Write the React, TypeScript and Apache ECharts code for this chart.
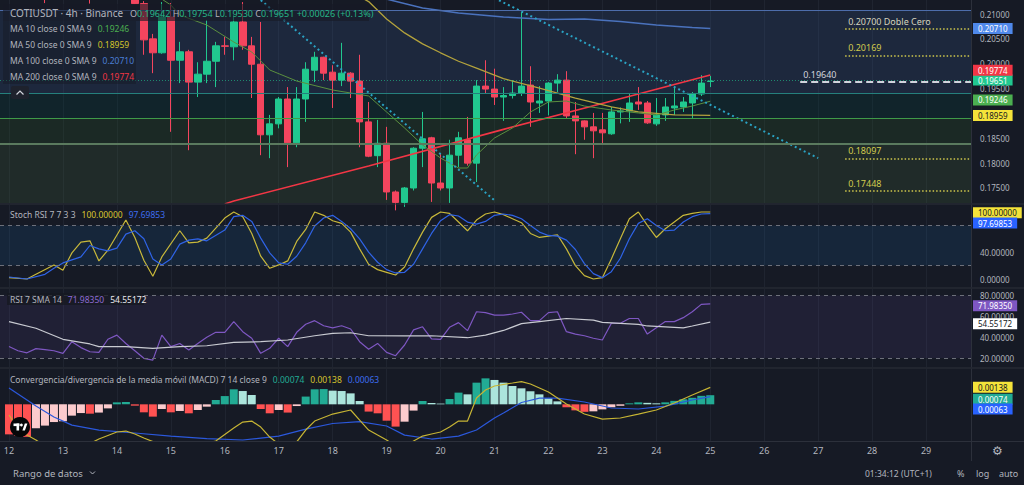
import React, { useEffect, useRef } from "react";
import * as echarts from "echarts";

const FONT = '"Noto Sans", "Open Sans", sans-serif';
const BG = "#161a25";
const SEP = "#2c303b";
const TXT = "#b2b5be";
const UP = "#21c88f";
const DOWN = "#f4455e";

// ---------- axis / category data ----------
const dayLabels = ["12", "13", "14", "15", "16", "17", "18", "19", "20", "21", "22", "23", "24", "25", "26", "27", "28", "29"];
const hourSlots = ["00:00", "04:00", "08:00", "12:00", "16:00", "20:00"];
const LEAD = 1; // one 4h slot before day 12 00:00
const categories = ["11 20:00", ...dayLabels.flatMap((d) => hourSlots.map((h) => `${d} ${h}`))];

// ---------- price pane ----------
// [open, close, low, high] for each 4h candle, k = 0 is 12 00:00, last is 25 00:00
const ohlc = [
  [0.2160, 0.2175, 0.2150, 0.2185],
  [0.2175, 0.2168, 0.2160, 0.2190],
  [0.2168, 0.2180, 0.2158, 0.2195],
  [0.2180, 0.2165, 0.2150, 0.2188],
  [0.2165, 0.2140, 0.2122, 0.2170],
  [0.2140, 0.2158, 0.2135, 0.2165],
  [0.2158, 0.2170, 0.2150, 0.2180],
  [0.2170, 0.2155, 0.2140, 0.2178],
  [0.2155, 0.2148, 0.2138, 0.2162],
  [0.2148, 0.2135, 0.2121, 0.2155],
  [0.2135, 0.2150, 0.2130, 0.2160],
  [0.2150, 0.2142, 0.2133, 0.2158],
  [0.2142, 0.2150, 0.2136, 0.2156],
  [0.2150, 0.2138, 0.2130, 0.2155],
  [0.2138, 0.2121, 0.2120, 0.2145],
  [0.2121, 0.2048, 0.2018, 0.2126],
  [0.2050, 0.2022, 0.1981, 0.2060],
  [0.2022, 0.2094, 0.2020, 0.2124],
  [0.2094, 0.2007, 0.1863, 0.2122],
  [0.2007, 0.2024, 0.1961, 0.2044],
  [0.2024, 0.1963, 0.1826, 0.2028],
  [0.1963, 0.1979, 0.1933, 0.2003],
  [0.1979, 0.2005, 0.1961, 0.2088],
  [0.2005, 0.2036, 0.1953, 0.2044],
  [0.2036, 0.2035, 0.2018, 0.2054],
  [0.2034, 0.2084, 0.2007, 0.2098],
  [0.2084, 0.2036, 0.2028, 0.2124],
  [0.2036, 0.1999, 0.1931, 0.2054],
  [0.1999, 0.1857, 0.1816, 0.2084],
  [0.1857, 0.1879, 0.1810, 0.1897],
  [0.1879, 0.1929, 0.1870, 0.1933],
  [0.1929, 0.1841, 0.1792, 0.1953],
  [0.1841, 0.1929, 0.1832, 0.1953],
  [0.1929, 0.1989, 0.1883, 0.2003],
  [0.1987, 0.2013, 0.1963, 0.2024],
  [0.2013, 0.1981, 0.1967, 0.2014],
  [0.1983, 0.1967, 0.1911, 0.1997],
  [0.1967, 0.1981, 0.1955, 0.2042],
  [0.1981, 0.1965, 0.1931, 0.1983],
  [0.1965, 0.1883, 0.1832, 0.2018],
  [0.1883, 0.1814, 0.1812, 0.1923],
  [0.1815, 0.1840, 0.1792, 0.1887],
  [0.1840, 0.1742, 0.1726, 0.1873],
  [0.1742, 0.1721, 0.1705, 0.1745],
  [0.1721, 0.1750, 0.1712, 0.1752],
  [0.1750, 0.1830, 0.1745, 0.1832],
  [0.1830, 0.1849, 0.1792, 0.1903],
  [0.1851, 0.1760, 0.1722, 0.1853],
  [0.1760, 0.1750, 0.1745, 0.1818],
  [0.1750, 0.1816, 0.1720, 0.1847],
  [0.1816, 0.1851, 0.1792, 0.1863],
  [0.1847, 0.1800, 0.1795, 0.1893],
  [0.1800, 0.1955, 0.1762, 0.1967],
  [0.1955, 0.1949, 0.1940, 0.2007],
  [0.1949, 0.1933, 0.1917, 0.1990],
  [0.1933, 0.1936, 0.1885, 0.1953],
  [0.1936, 0.1941, 0.1930, 0.1967],
  [0.1941, 0.1955, 0.1935, 0.2104],
  [0.1957, 0.1923, 0.1873, 0.1995],
  [0.1921, 0.1925, 0.1901, 0.1955],
  [0.1925, 0.1961, 0.1896, 0.1963],
  [0.1961, 0.1967, 0.1943, 0.1979],
  [0.1967, 0.1895, 0.1890, 0.1985],
  [0.1895, 0.1885, 0.1818, 0.1923],
  [0.1885, 0.1873, 0.1847, 0.1886],
  [0.1873, 0.1865, 0.1810, 0.1901],
  [0.1867, 0.1861, 0.1838, 0.1901],
  [0.1859, 0.1903, 0.1857, 0.1913],
  [0.1903, 0.1905, 0.1880, 0.1912],
  [0.1905, 0.1921, 0.1883, 0.1939],
  [0.1923, 0.1919, 0.1907, 0.1953],
  [0.1921, 0.1881, 0.1879, 0.1925],
  [0.1879, 0.1897, 0.1875, 0.1931],
  [0.1897, 0.1913, 0.1885, 0.1931],
  [0.1911, 0.1915, 0.1897, 0.1953],
  [0.1913, 0.1923, 0.1903, 0.1933],
  [0.1921, 0.1939, 0.1891, 0.1943],
  [0.1939, 0.1961, 0.1935, 0.1977],
  [0.19642, 0.19651, 0.1953, 0.19754],
];
const lastChange = "+0.00026 (+0.13%)";

// moving averages: [candle k, value]
const ma10 = [[17, 0.2130], [18, 0.21181], [19, 0.2098], [22, 0.20779], [25, 0.20437], [27, 0.20236], [29, 0.19874], [32, 0.19652], [36, 0.19471], [40, 0.19351], [42, 0.19029], [44, 0.18707], [46, 0.18365], [48, 0.18103], [50, 0.17902], [51, 0.17902], [52, 0.18164], [54, 0.18506], [56, 0.18707], [58, 0.19029], [60, 0.1923], [62, 0.1925], [64, 0.19149], [67, 0.19069], [70, 0.19009], [72, 0.18968], [74, 0.19069], [76, 0.19149], [78, 0.19246]];
const ma50 = [[39, 0.2135], [40, 0.2125], [42, 0.2090], [44, 0.2062], [46, 0.2040], [48, 0.2022], [50, 0.2005], [52, 0.1991], [55, 0.1970], [59, 0.1951], [63, 0.1931], [67, 0.1913], [70, 0.1903], [74, 0.1897], [78, 0.18959]];
const ma100 = [[42, 0.2130], [46, 0.2112], [50, 0.2102], [55, 0.2094], [60, 0.2089], [64, 0.2090], [68, 0.2085], [72, 0.2078], [76, 0.2073], [78, 0.2071]];
const ma200 = [[24, 0.17178], [25, 0.17238], [40, 0.17942], [55, 0.18679], [70, 0.19391], [78, 0.19774]];

// dotted trend lines: [candle k, price]
const trendA = [[28, 0.2128], [54, 0.1725]];
const trendB = [[54, 0.2132], [90, 0.1810]];

// shaded zones (top edge of each zone; the last zone runs to the pane bottom)
const zoneTops = [0.2108, 0.19405, 0.18902, 0.18385];

// horizontal level rays
const levelValues = [0.207, 0.20169, 0.1964, 0.18097, 0.17448];
const levelTexts = ["0.20700 Doble Cero", "0.20169", "0.19640", "0.18097", "0.17448"];
const levelStartK = [93, 93, 88, 93, 93];

const priceTicks = [0.175, 0.18, 0.185, 0.195, 0.2, 0.205, 0.21];
const priceRange = [0.17198, 0.21282];

// ---------- Stoch RSI pane ----------
const stochK = [[0, 2], [2, 0], [3, 7], [5, 21], [6, 13], [7, 39], [8, 55], [9, 57], [10, 27], [11, 43], [13, 88], [14, 62], [15, 28], [16, 4], [17, 33], [19, 72], [20, 54], [21, 55], [22, 61], [24, 91], [25, 100], [26, 93], [27, 68], [28, 34], [29, 16], [30, 21], [31, 27], [32, 56], [33, 74], [34, 100], [35, 95], [36, 87], [37, 83], [38, 70], [39, 45], [40, 22], [41, 14], [42, 10], [43, 6], [44, 18], [45, 45], [46, 70], [47, 92], [48, 100], [49, 98], [50, 85], [51, 72], [52, 88], [53, 97], [54, 100], [55, 96], [56, 90], [57, 84], [58, 68], [59, 62], [60, 64], [61, 66], [62, 45], [63, 20], [64, 5], [65, 0], [66, 2], [67, 30], [68, 60], [69, 90], [70, 100], [71, 80], [72, 62], [73, 75], [74, 85], [75, 95], [76, 98], [77, 100], [78, 100]];
const stochD = [[0, 3], [2, 0], [4, 7], [5, 16], [6, 24], [8, 33], [9, 50], [10, 45], [11, 42], [12, 46], [13, 67], [14, 72], [15, 60], [16, 30], [17, 21], [18, 30], [19, 52], [20, 58], [21, 60], [22, 57], [24, 73], [25, 93], [26, 95], [27, 86], [28, 61], [29, 39], [30, 24], [31, 22], [32, 34], [33, 54], [34, 79], [35, 91], [36, 95], [37, 86], [38, 75], [39, 60], [40, 40], [41, 25], [42, 14], [43, 9], [44, 10], [45, 22], [46, 45], [47, 68], [48, 87], [49, 96], [50, 94], [51, 85], [52, 82], [53, 86], [54, 95], [55, 97], [56, 95], [57, 90], [58, 80], [59, 70], [60, 65], [61, 64], [62, 58], [63, 44], [64, 23], [65, 8], [66, 2], [67, 11], [68, 31], [69, 60], [70, 83], [71, 90], [72, 80], [73, 72], [74, 73], [75, 85], [76, 93], [77, 97], [78, 97.69853]];
const stochTicks = [0, 40];
const stochRange = [-11.94, 110.45];

// ---------- RSI pane ----------
const rsi = [[0, 31], [1, 27], [2, 25], [3, 29], [4, 28], [5, 27], [6, 24.5], [7, 35.7], [8, 30], [9, 26], [10, 25.4], [11, 38], [12, 42], [13, 34], [14, 27], [15, 19.7], [16, 18], [17, 42], [18, 31], [19, 34], [20, 27.7], [21, 34], [22, 40], [23, 44.7], [24, 44.7], [25, 55], [26, 45.3], [27, 39], [28, 24.5], [29, 29.3], [30, 39], [31, 30.9], [32, 44.7], [33, 52.4], [34, 55.9], [35, 51], [36, 49], [37, 51], [38, 47.9], [39, 35.7], [40, 28.4], [41, 34], [42, 25.4], [43, 22.2], [44, 32.5], [45, 47], [46, 50], [47, 38.3], [48, 38], [49, 49.5], [50, 54], [51, 46.3], [52, 64.5], [53, 63.6], [54, 61.3], [55, 61.3], [56, 62.3], [57, 64], [58, 55.9], [59, 55.9], [60, 63.6], [61, 64.5], [62, 45.3], [63, 43], [64, 41.4], [65, 39], [66, 37.3], [67, 53.4], [68, 53.4], [69, 58], [70, 58], [71, 43], [72, 49], [73, 55], [74, 55], [75, 58.8], [76, 64.5], [77, 71.6], [78, 71.9835]];
const rsiMa = [[0, 55], [3, 48.6], [6, 38], [9, 33.5], [10, 30.9], [13, 30.9], [16, 29.3], [19, 30.9], [22, 31.8], [25, 35], [28, 35.7], [31, 37.3], [34, 41.4], [36, 43.7], [38, 44.3], [40, 41.4], [44, 41.2], [47, 41.4], [51, 39.5], [53, 42], [55, 46.5], [57, 53], [59, 55], [62, 58], [65, 56.5], [66, 54.3], [70, 52.4], [71, 50.8], [75, 49], [76, 50.8], [78, 54.55172]];
const rsiTicks = [20, 40, 60, 80];
const rsiRange = [11.35, 86.35];

// ---------- MACD pane ----------
const macdHist = [-0.00244, -0.00256, -0.00264, -0.00195, -0.00173, -0.00144, -0.00138, -0.00092, -0.00071, -0.00076, -0.00067, -0.00033, 0.00016, 0.00019, -0.00011, -0.00065, -0.001, -0.00038, -0.00065, -0.00054, -0.00073, -0.00046, -0.00019, 0.00035, 0.00067, 0.00122, 0.00108, 0.00076, -0.00038, -0.00073, -0.00046, -0.00067, -0.00014, 0.00063, 0.00122, 0.00124, 0.00111, 0.00108, 0.00089, 0.00027, -0.00059, -0.00073, -0.00133, -0.00181, -0.00141, -0.00051, 0.00027, 0.00011, 0.00006, 0.00043, 0.00095, 0.00081, 0.00176, 0.00211, 0.00198, 0.00176, 0.00149, 0.0013, 0.00106, 0.00081, 0.00049, 0.00024, -0.00024, -0.00049, -0.00061, -0.00057, -0.00041, -0.00024, -0.00012, 0.00008, 0.00016, 0.00012, 0.00008, 0.00016, 0.00028, 0.00041, 0.00053, 0.00069, 0.00074];
const macdLine = [[0, -0.00087], [1, -0.00193], [2, -0.0025], [3, -0.0029], [4, -0.00339], [6, -0.00372], [8, -0.00355], [10, -0.00282], [12, -0.00225], [13, -0.00217], [14, -0.00241], [15, -0.00274], [17, -0.00331], [20, -0.00347], [23, -0.00298], [25, -0.00193], [26, -0.00144], [27, -0.00136], [28, -0.00185], [29, -0.00266], [30, -0.00323], [32, -0.00306], [33, -0.00209], [34, -0.00136], [36, -0.00079], [38, -0.00046], [39, -0.00128], [40, -0.00209], [41, -0.0025], [42, -0.0029], [43, -0.00339], [44, -0.00339], [45, -0.00298], [46, -0.00258], [47, -0.00241], [48, -0.00225], [49, -0.00185], [50, -0.00136], [51, -0.00136], [52, 0.00051], [53, 0.00116], [54, 0.00149], [56, 0.00173], [57, 0.00185], [58, 0.00165], [60, 0.001], [62, 0.00002], [64, -0.00079], [66, -0.0012], [68, -0.00111], [70, -0.00079], [72, -0.00046], [74, 0.00011], [76, 0.00076], [78, 0.00138]];
const macdSignal = [[0, 0.00133], [2, 0.00035], [3, -0.00014], [5, -0.00103], [7, -0.00169], [10, -0.00209], [14, -0.00233], [18, -0.00258], [22, -0.00278], [26, -0.0029], [30, -0.00258], [33, -0.00201], [36, -0.00156], [39, -0.0014], [42, -0.00176], [44, -0.0025], [47, -0.00282], [50, -0.00258], [52, -0.00209], [54, -0.00111], [55, -0.00071], [57, 0.00015], [59, 0.00051], [61, 0.00051], [64, 0.00019], [67, -0.0003], [70, -0.00038], [73, -0.00014], [76, 0.00035], [78, 0.00063]];
const macdRange = [-0.00298, 0.00287];

// ---------- layout ----------
const GRID_RIGHT = 53;
const grids = [
  { top: 0, height: 203 },
  { top: 205, height: 82 },
  { top: 289, height: 78 },
  { top: 369, height: 72 },
];
const ranges = [priceRange, stochRange, rsiRange, macdRange];

const toCat = (pts: number[][]) => pts.map(([k, v]) => [k + LEAD, v]);
const lastOf = (pts: number[][]) => pts[pts.length - 1][1];
const isDay = (i: number) => i >= LEAD && (i - LEAD) % 6 === 0;
// value offset equivalent to a pixel shift (positive = up) in a pane
const shift = (gi: number, px: number) => ((ranges[gi][1] - ranges[gi][0]) / grids[gi].height) * px;
const HIDDEN_LINE = { color: "rgba(0,0,0,0)", width: 1, type: "solid" };

function box(gi: number, value: number, text: string, bg: string, fg: string, upPx = 0, lineStyle?: any) {
  return {
    yAxis: value + shift(gi, upPx),
    lineStyle: lineStyle || HIDDEN_LINE,
    label: {
      show: true,
      position: "end",
      distance: 2,
      formatter: text,
      backgroundColor: bg,
      color: fg,
      opacity: 1,
      fontSize: 8,
      fontFamily: FONT,
      padding: [1, 5, 1, 5],
      lineHeight: 9,
    },
  };
}
const ml = (data: any[]) => ({ silent: true, symbol: ["none", "none"], precision: 8, animation: false, data });

function buildOption() {
  const lastBar = ohlc[ohlc.length - 1];
  const f5 = (v: number) => v.toFixed(5);

  const xAxes = grids.map((_, gi) => ({
    type: "category",
    gridIndex: gi,
    data: categories,
    boundaryGap: false,
    axisLine: { show: false },
    axisTick: { show: false },
    axisLabel:
      gi === 3
        ? { show: true, interval: isDay, formatter: (v: string) => v.split(" ")[0], color: TXT, fontSize: 9, fontFamily: FONT, margin: 5 }
        : { show: false },
    splitLine: { show: true, interval: isDay, lineStyle: { color: "#1f2430", width: 1 } },
  }));

  const yTicks = [priceTicks, stochTicks, rsiTicks, null];
  const yAxes = grids.map((_, gi) => ({
    type: "value",
    gridIndex: gi,
    position: "right",
    min: ranges[gi][0],
    max: ranges[gi][1],
    splitLine: { show: false },
    axisLine: { show: true, lineStyle: { color: SEP, width: 1 } },
    axisTick: { show: false },
    axisLabel: yTicks[gi]
      ? { show: true, customValues: yTicks[gi], formatter: (v: number) => v.toFixed(5), color: TXT, fontSize: 8, fontFamily: FONT, margin: 9 }
      : { show: false },
  }));

  const zoneFills = ["rgba(60,100,160,0.2)", "rgba(0,80,70,0.2)", "rgba(50,105,40,0.2)", "rgba(75,115,60,0.2)"];
  const zoneEdges = ["#4d6dab", "#25807d", "#3f9a48", "#5a7a5e"];
  const zoneEdgeW = [1.2, 1.2, 1.2, 1.8];
  const zoneBottoms = [...zoneTops.slice(1), priceRange[0]];

  const endIdx = categories.length - 1;
  const levelLines = levelValues.map((v, i) => {
    const dashed = levelTexts[i] === "0.19640";
    const light = i === 0;
    return [
      {
        coord: [levelStartK[i] + LEAD, v],
        lineStyle: dashed ? { color: "#d1d4dc", width: 2, type: [7, 4] } : { color: "#cfc84c", width: 1.5, type: [1.5, 2] },
        label: {
          show: true,
          position: "insideStartTop",
          distance: 3,
          formatter: levelTexts[i],
          color: dashed ? "#d1d4dc" : light ? "#d6d4bd" : "#d2cb4e",
          fontSize: 9,
          fontFamily: FONT,
        },
      },
      { coord: [endIdx, v] },
    ];
  });

  const lineSeries = (gi: number, pts: number[][], color: string, width: number, extra: any = {}) => ({
    type: "line",
    xAxisIndex: gi,
    yAxisIndex: gi,
    data: toCat(pts),
    showSymbol: false,
    symbol: "none",
    lineStyle: { color, width },
    z: 4,
    silent: true,
    ...extra,
  });

  const histColor = (v: number, prev: number) =>
    v >= 0 ? (v >= prev ? "#22ab94" : "#ace5dc") : v < prev ? "#ff5252" : "#fccbcd";

  const dashedGuide = (v: number) => ({ yAxis: v, lineStyle: { color: "#6d707a", width: 1, type: [4, 4] }, label: { show: false } });

  const series: any[] = [
    {
      type: "candlestick",
      xAxisIndex: 0,
      yAxisIndex: 0,
      data: ohlc.map((r, k) => [k + LEAD, ...r]),
      encode: { x: 0, y: [1, 2, 3, 4] },
      barWidth: 7,
      z: 3,
      silent: true,
      itemStyle: { color: UP, color0: DOWN, borderColor: UP, borderColor0: DOWN, borderWidth: 1 },
      markArea: {
        silent: true,
        precision: 8,
        data: zoneTops.map((t, i) => [{ yAxis: t, itemStyle: { color: zoneFills[i] } }, { yAxis: zoneBottoms[i] }]),
      },
      markLine: ml([
        ...zoneTops.map((t, i) => ({ yAxis: t, lineStyle: { color: zoneEdges[i], width: zoneEdgeW[i], type: "solid" }, label: { show: false } })),
        ...levelLines,
        box(0, lastBar[1], f5(lastBar[1]), UP, "#ffffff", 1, { color: "rgba(33,200,143,0.6)", width: 1, type: [1, 2] }),
      ]),
    },
    lineSeries(0, ma200, "#f23645", 1.6, { markLine: ml([box(0, lastOf(ma200), f5(lastOf(ma200)), "#f23645", "#ffffff", 4.7)]) }),
    lineSeries(0, ma100, "#4a72bd", 1.5, { markLine: ml([box(0, lastOf(ma100), f5(lastOf(ma100)), "#4f88ea", "#ffffff")]) }),
    lineSeries(0, ma50, "#b3a23c", 1.3, { markLine: ml([box(0, lastOf(ma50), f5(lastOf(ma50)), "#f5e33a", "#131722")]) }),
    lineSeries(0, ma10, "#5b8f3f", 1, { markLine: ml([box(0, lastOf(ma10), f5(lastOf(ma10)), "#4caf50", "#ffffff", 1.3)]) }),
    lineSeries(0, trendA, "#2aa3c4", 2, { lineStyle: { color: "#2aa3c4", width: 2, type: [2, 3] } }),
    lineSeries(0, trendB, "#2aa3c4", 2, { lineStyle: { color: "#2aa3c4", width: 2, type: [2, 3] } }),

    // Stoch RSI
    lineSeries(1, stochK, "#c8b83a", 1.2, {
      markArea: { silent: true, precision: 8, data: [[{ yAxis: 80, itemStyle: { color: "rgba(33,150,243,0.1)" } }, { yAxis: 20 }]] },
      markLine: ml([dashedGuide(80), dashedGuide(20), box(1, lastOf(stochK), f5(lastOf(stochK)), "#f5e33a", "#131722", -0.7)]),
    }),
    lineSeries(1, stochD, "#2f63e6", 1.2, { markLine: ml([box(1, lastOf(stochD), f5(lastOf(stochD)), "#2962ff", "#ffffff", -9.5)]) }),

    // RSI
    lineSeries(2, rsi, "#7e57c2", 1.2, {
      markArea: { silent: true, precision: 8, data: [[{ yAxis: 80, itemStyle: { color: "rgba(126,87,194,0.1)" } }, { yAxis: 20 }]] },
      markLine: ml([dashedGuide(80), dashedGuide(20), box(2, lastOf(rsi), f5(lastOf(rsi)), "#7e57c2", "#ffffff", -1.7)]),
    }),
    lineSeries(2, rsiMa, "#c9cbd2", 1.2, { markLine: ml([box(2, lastOf(rsiMa), f5(lastOf(rsiMa)), "#ffffff", "#131722", -1.6)]) }),

    // MACD
    {
      type: "bar",
      xAxisIndex: 3,
      yAxisIndex: 3,
      barWidth: 8,
      silent: true,
      z: 2,
      data: macdHist.map((v, k) => ({ value: [k + LEAD, v], itemStyle: { color: histColor(v, k > 0 ? macdHist[k - 1] : 0) } })),
      markLine: ml([box(3, macdHist[macdHist.length - 1], f5(macdHist[macdHist.length - 1]), "#22ab94", "#ffffff", -4)]),
    },
    lineSeries(3, macdSignal, "#2b58dc", 1.2, { markLine: ml([box(3, lastOf(macdSignal), f5(lastOf(macdSignal)), "#2962ff", "#ffffff", -12.5)]) }),
    lineSeries(3, macdLine, "#c6b434", 1.2, { markLine: ml([box(3, lastOf(macdLine), f5(lastOf(macdLine)), "#f5e33a", "#131722")]) }),
  ];

  const t = (x: number, y: number, text: string, size: number, fill = TXT, rich?: any, extra: any = {}) => ({
    type: "text",
    x,
    y,
    z: 100,
    silent: true,
    style: { text, fill, fontSize: size, fontFamily: FONT, verticalAlign: "middle", rich, ...extra },
  });
  const richSet = (size: number, colors: Record<string, string>, pad = 6) => {
    const r: any = { l: { fill: TXT, fontSize: size, fontFamily: FONT } };
    Object.keys(colors).forEach((key) => {
      r[key] = { fill: colors[key], fontSize: size, fontFamily: FONT, padding: [0, 0, 0, pad] };
    });
    return r;
  };

  const maRows = [
    ["MA 10 close 0 SMA 9", f5(lastOf(ma10)), "#4caf50"],
    ["MA 50 close 0 SMA 9", f5(lastOf(ma50)), "#d4c42a"],
    ["MA 100 close 0 SMA 9", f5(lastOf(ma100)), "#4a7fd6"],
    ["MA 200 close 0 SMA 9", f5(lastOf(ma200)), "#f23645"],
  ];
  const maRowY = [28.7, 44, 60, 76.3];

  const ohlcText =
    `{l|O}{g|${f5(lastBar[0])}} {l|H}{g|${f5(lastBar[3])}} {l|L}{g|${f5(lastBar[2])}} {l|C}{g|${f5(lastBar[1])}} {g|${lastChange}}`;

  const graphic: any[] = [
    // pane separators & frame
    ...[204, 288, 368, 441.5].map((y) => ({ type: "line", z: 90, silent: true, shape: { x1: 0, y1: y, x2: 1024, y2: y }, style: { stroke: SEP, lineWidth: 1 } })),
    { type: "line", z: 90, silent: true, shape: { x1: 971.5, y1: 441, x2: 971.5, y2: 461 }, style: { stroke: SEP, lineWidth: 1 } },
    // legend backgrounds
    { type: "rect", z: 95, silent: true, shape: { x: 3, y: 4, width: 366, height: 17 }, style: { fill: "rgba(22,26,37,0.62)" } },
    { type: "rect", z: 95, silent: true, shape: { x: 3, y: 21, width: 133, height: 63 }, style: { fill: "rgba(22,26,37,0.5)" } },
    { type: "rect", z: 95, silent: true, shape: { x: 7, y: 293, width: 137, height: 12 }, style: { fill: "rgba(22,24,32,0.75)" } },
    // title row
    t(10, 13, "COTIUSDT · 4h · Binance", 10),
    t(130, 13, ohlcText, 9, TXT, richSet(9, { g: "#26b787" }, 0)),
    ...maRows.map((r, i) => t(10, maRowY[i], `{l|${r[0]}}{v|${r[1]}}`, 8.5, TXT, richSet(8.5, { v: r[2] }))),
    // collapse button
    { type: "rect", z: 95, silent: true, shape: { x: 11, y: 86, width: 18, height: 13, r: 2 }, style: { fill: "#1e222d" } },
    { type: "polyline", z: 100, silent: true, shape: { points: [[16.5, 94.5], [20, 91], [23.5, 94.5]] }, style: { stroke: "#d1d4dc", lineWidth: 1.2, fill: "none" } },
    // indicator legends
    t(10, 214, `{l|Stoch RSI 7 7 3 3}{y|${f5(lastOf(stochK))}}{b|${f5(lastOf(stochD))}}`, 8.5, TXT, richSet(8.5, { y: "#d8c52e", b: "#3d6df0" })),
    t(10, 299, `{l|RSI 7 SMA 14}{p|${f5(lastOf(rsi))}}{w|${f5(lastOf(rsiMa))}}`, 8.5, TXT, richSet(8.5, { p: "#8e6bd4", w: "#e8e9ec" })),
    t(
      10,
      379,
      `{l|Convergencia/divergencia de la media móvil (MACD) 7 14 close 9}{t|${f5(macdHist[macdHist.length - 1])}}{y|${f5(lastOf(macdLine))}}{b|${f5(lastOf(macdSignal))}}`,
      8.5,
      TXT,
      richSet(8.5, { t: "#22ab94", y: "#d8c52e", b: "#3d6df0" })
    ),
    // TradingView logo
    {
      type: "group",
      x: 10,
      y: 417,
      z: 100,
      silent: true,
      children: [
        { type: "circle", z: 100, shape: { cx: 10, cy: 10, r: 10 }, style: { fill: "#050608" } },
        { type: "rect", z: 101, shape: { x: 3.5, y: 6.5, width: 6, height: 2.6 }, style: { fill: "#ffffff" } },
        { type: "rect", z: 101, shape: { x: 6.5, y: 6.5, width: 2.6, height: 7 }, style: { fill: "#ffffff" } },
        { type: "circle", z: 101, shape: { cx: 11.4, cy: 8, r: 1.4 }, style: { fill: "#ffffff" } },
        { type: "polygon", z: 101, shape: { points: [[12.4, 13.5], [14.8, 6.5], [17.4, 6.5], [14.9, 13.5]] }, style: { fill: "#ffffff" } },
      ],
    },
    // bottom toolbar
    t(13, 473, "Rango de datos", 9.5),
    { type: "polyline", z: 100, silent: true, shape: { points: [[90, 471.5], [92.5, 474], [95, 471.5]] }, style: { stroke: TXT, lineWidth: 1, fill: "none" } },
    t(865, 473, "01:34:12 (UTC+1)", 8.5),
    t(957, 473, "%", 9),
    t(976, 473, "log", 9),
    t(999, 473, "auto", 9),
    { type: "text", x: 992, y: 451, z: 100, silent: true, style: { text: "⚙", fill: TXT, fontSize: 12, fontFamily: '"DejaVu Sans", sans-serif', verticalAlign: "middle" } },
  ];

  return {
    animation: false,
    backgroundColor: BG,
    textStyle: { fontFamily: FONT },
    grid: grids.map((g) => ({ left: -1, right: GRID_RIGHT, top: g.top, height: g.height, containLabel: false })),
    xAxis: xAxes,
    yAxis: yAxes,
    series,
    graphic,
  };
}

export default function App() {
  const ref = useRef<HTMLDivElement>(null);
  useEffect(() => {
    document.body.style.margin = "0";
    document.body.style.background = BG;
    const chart = echarts.init(ref.current as HTMLDivElement, null, { renderer: "svg" });
    chart.setOption(buildOption() as any);
    return () => chart.dispose();
  }, []);
  return <div ref={ref} style={{ position: "fixed", left: 0, top: 0, width: 1024, height: 485, background: BG }} />;
}
